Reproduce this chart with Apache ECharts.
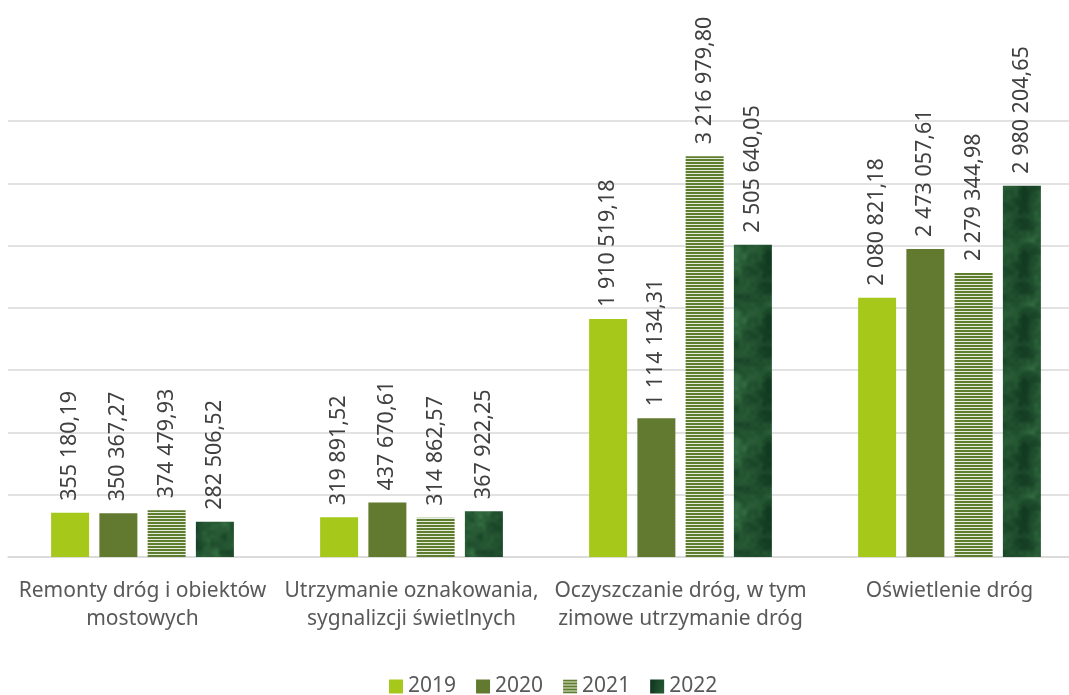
<!DOCTYPE html>
<html>
<head>
<meta charset="utf-8">
<script src="https://cdn.jsdelivr.net/npm/echarts@6/dist/echarts.min.js"></script>
<style>
  html, body { margin: 0; padding: 0; background: #fff; }
  #chart-container { width: 1069px; height: 695px; }
</style>
</head>
<body>
<div id="chart-container"></div>
<script>
'use strict';

const categories = [
    'Remonty dróg i obiektów\nmostowych',
    'Utrzymanie oznakowania,\nsygnalizcji świetlnych',
    'Oczyszczanie dróg, w tym\nzimowe utrzymanie dróg',
    'Oświetlenie dróg'
];
const years = ['2019', '2020', '2021', '2022'];
const values2019 = [355180.19, 319891.52, 1910519.18, 2080821.18];
const values2020 = [350367.27, 437670.61, 1114134.31, 2473057.61];
const values2021 = [374479.93, 314862.57, 3216979.80, 2279344.98];
const values2022 = [282506.52, 367922.25, 2505640.05, 2980204.65];

// striped fill for 2021
function stripes() {
    const c = document.createElement('canvas');
    c.width = 4;
    c.height = 3;
    const ctx = c.getContext('2d');
    ctx.fillStyle = '#e6ecdb';
    ctx.fillRect(0, 0, 4, 3);
    ctx.fillStyle = '#5f7d2e';
    ctx.fillRect(0, 0, 4, 2);
    return c;
}

// dark mottled fill for 2022 (deterministic hash noise, tileable)
function hash(x, y, n) {
    x = ((x % n) + n) % n;
    y = ((y % n) + n) % n;
    let h = x * 374761393 + y * 668265263;
    h = (h ^ (h >>> 13)) * 1274126177;
    h = h ^ (h >>> 16);
    return (h & 1023) / 1023;
}
function smoothNoise(x, y, cell, n) {
    const gx = x / cell, gy = y / cell;
    const x0 = Math.floor(gx), y0 = Math.floor(gy);
    const fx = gx - x0, fy = gy - y0;
    const sx = fx * fx * (3 - 2 * fx), sy = fy * fy * (3 - 2 * fy);
    const a = hash(x0, y0, n), b = hash(x0 + 1, y0, n);
    const c = hash(x0, y0 + 1, n), d = hash(x0 + 1, y0 + 1, n);
    return (a * (1 - sx) + b * sx) * (1 - sy) + (c * (1 - sx) + d * sx) * sy;
}
function marble() {
    const s = 64;
    const c = document.createElement('canvas');
    c.width = s;
    c.height = s;
    const ctx = c.getContext('2d');
    const img = ctx.createImageData(s, s);
    for (let y = 0; y < s; y++) {
        for (let x = 0; x < s; x++) {
            let v = smoothNoise(x, y, 16, 4) * 0.5 + smoothNoise(x, y, 8, 8) * 0.3 + smoothNoise(x, y, 4, 16) * 0.2;
            v = Math.pow(v, 1.8);
            const i = (y * s + x) * 4;
            img.data[i] = 18 + v * 45;
            img.data[i + 1] = 58 + v * 68;
            img.data[i + 2] = 33 + v * 42;
            img.data[i + 3] = 255;
        }
    }
    ctx.putImageData(img, 0, 0);
    return c;
}

const colors = [
    '#a5c81a',
    '#617a2f',
    { image: stripes(), repeat: 'repeat' },
    { image: marble(), repeat: 'repeat' }
];

function fmt(v) {
    const parts = v.toFixed(2).split('.');
    return parts[0].replace(/\B(?=(\d{3})+(?!\d))/g, ' ') + ',' + parts[1];
}

const labelFont = 'Noto Sans, sans-serif';
const allValues = [values2019, values2020, values2021, values2022];

const myChart = echarts.init(document.getElementById('chart-container'), null, { renderer: 'canvas' });

const option = {
    backgroundColor: '#fff',
    animation: false,
    grid: {
        left: 8,
        width: 1076,
        top: 121,
        bottom: 138,
        outerBoundsMode: 'none'
    },
    legend: {
        top: 671,
        left: 384,
        itemWidth: 14,
        itemHeight: 14,
        itemGap: 20,
        icon: 'rect',
        textStyle: { fontFamily: labelFont, fontSize: 21, color: '#595959' },
        data: years
    },
    xAxis: {
        type: 'category',
        data: categories,
        axisLine: { lineStyle: { color: '#d9d9d9', width: 1.5 } },
        axisTick: { show: false },
        axisLabel: {
            margin: 20,
            fontFamily: labelFont,
            fontSize: 21,
            lineHeight: 28,
            color: '#595959',
            interval: 0
        }
    },
    yAxis: {
        type: 'value',
        min: 0,
        max: 3500000,
        interval: 500000,
        axisLabel: { show: false },
        axisLine: { show: false },
        axisTick: { show: false },
        splitLine: { lineStyle: { color: '#d9d9d9', width: 1.5 } }
    },
    series: years.map((y, i) => ({
        name: y,
        type: 'bar',
        data: allValues[i],
        barWidth: 38,
        barGap: '27%',
        itemStyle: { color: colors[i] },
        label: {
            show: true,
            position: 'top',
            rotate: 90,
            align: 'left',
            verticalAlign: 'middle',
            distance: 12,
            fontFamily: labelFont,
            fontSize: 21.5,
            color: '#404040',
            formatter: (p) => fmt(p.value)
        }
    }))
};

myChart.setOption(option);
window.addEventListener('resize', myChart.resize);
</script>
</body>
</html>
